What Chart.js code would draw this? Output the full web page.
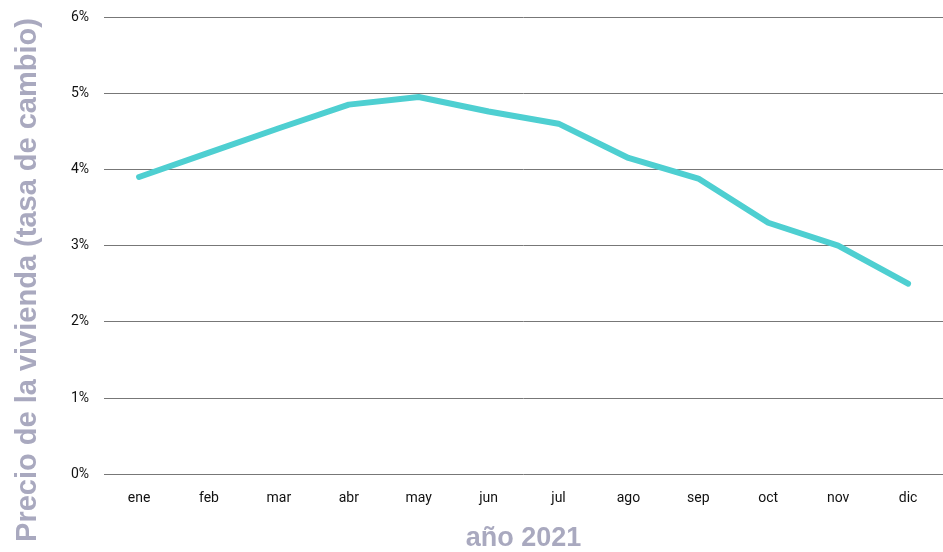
<!DOCTYPE html>
<html lang="es">
<head>
<meta charset="utf-8">
<title>Precio de la vivienda 2021</title>
<script src="https://cdn.jsdelivr.net/npm/chart.js@4.4.1/dist/chart.umd.min.js"></script>
<style>
  html, body { margin: 0; padding: 0; background: #fff; }
  #wrap { width: 943px; height: 552px; }
</style>
</head>
<body>
<div id="wrap"><canvas id="priceChart"></canvas></div>
<script>
// Monthly house price change, 2021
const months = ['ene', 'feb', 'mar', 'abr', 'may', 'jun', 'jul', 'ago', 'sep', 'oct', 'nov', 'dic'];
const priceChange = [3.9, 4.22, 4.54, 4.85, 4.95, 4.76, 4.6, 4.15, 3.88, 3.3, 3.0, 2.5];
const yTicks = [0, 1, 2, 3, 4, 5, 6];
const yTitle = 'Precio de la vivienda (tasa de cambio)';
const xTitle = 'año 2021';

const tickFont = { family: "'Liberation Sans Narrow', 'Arial Narrow', 'Roboto', sans-serif", size: 14 };
const titleColor = '#a9a9bf';

// y title spans the full canvas height, so draw it by hand
const sideTitle = {
  id: 'sideTitle',
  afterDraw(chart) {
    const c = chart.ctx;
    c.save();
    c.translate(28, chart.height / 2 + 4);
    c.rotate(-Math.PI / 2);
    c.font = "bold 29px 'Liberation Sans', Arial, sans-serif";
    c.fillStyle = titleColor;
    c.textAlign = 'center';
    c.textBaseline = 'middle';
    c.fillText(yTitle, 0, 0);
    c.restore();
  }
};

const ctx = document.getElementById('priceChart').getContext('2d');
const priceChart = new Chart(ctx, {
  type: 'line',
  data: {
    labels: months,
    datasets: [{
      label: 'Precio de la vivienda',
      data: priceChange,
      borderColor: '#4ecfd1',
      borderWidth: 6,
      borderCapStyle: 'round',
      borderJoinStyle: 'round',
      pointRadius: 0,
      tension: 0,
      fill: false
    }]
  },
  options: {
    responsive: true,
    maintainAspectRatio: false,
    animation: false,
    layout: { padding: { top: 17, right: 0, bottom: 0, left: 56 } },
    plugins: {
      legend: { display: false },
      tooltip: { enabled: false }
    },
    scales: {
      x: {
        offset: true,
        grid: { display: false },
        border: { display: false },
        ticks: { color: '#111', font: tickFont, padding: 8, maxRotation: 0 },
        title: {
          display: true,
          text: xTitle,
          color: titleColor,
          font: { family: "'Liberation Sans', Arial, sans-serif", size: 27, weight: 'bold', lineHeight: 1.0 },
          padding: { top: 10, bottom: 0 }
        }
      },
      y: {
        min: 0,
        max: 6,
        afterBuildTicks: (axis) => { axis.ticks = yTicks.map(v => ({ value: v })); },
        afterFit: (axis) => { axis.paddingTop = 0; },
        grid: { color: '#777', lineWidth: 1, drawTicks: false },
        border: { display: false },
        ticks: {
          color: '#111',
          font: tickFont,
          padding: 15,
          callback: (v) => v + '%'
        }
      }
    }
  },
  plugins: [sideTitle]
});
</script>
</body>
</html>
